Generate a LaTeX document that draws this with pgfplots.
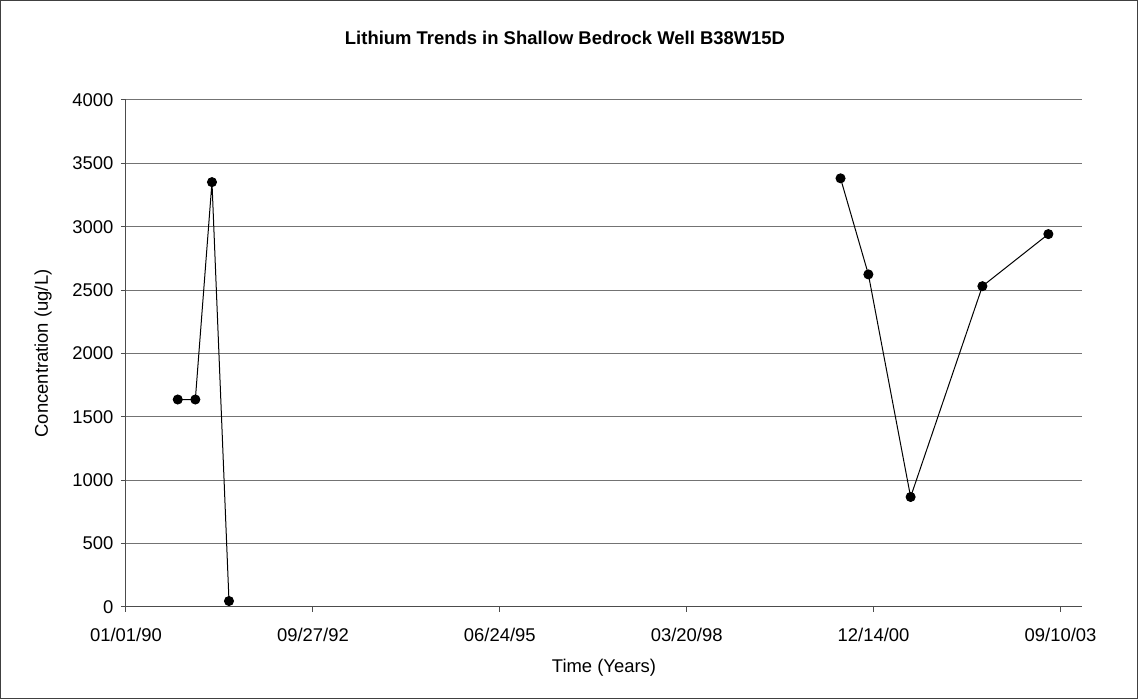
\documentclass[border=0pt]{standalone}
\usepackage{pgfplots}
\pgfplotsset{compat=1.18}
\usepackage{fontspec}
\setmainfont{Liberation Sans}
\begin{document}
\begin{tikzpicture}[x=1bp,y=1bp]
\useasboundingbox (-126,-93) rectangle (1012,607);
\draw[black!75, line width=1bp] (-125,-92) rectangle (1011,606);
\node[font=\bfseries\fontsize{18.5}{22}\selectfont] at (439,569) {Lithium Trends in Shallow Bedrock Well B38W15D};
\begin{axis}[
  at={(0,0)}, anchor=south west,
  scale only axis, width=956bp, height=507bp,
  xmin=0, xmax=5115, ymin=0, ymax=4000,
  xtick={0,1000,...,5000},
  xticklabels={01/01/90,09/27/92,06/24/95,03/20/98,12/14/00,09/10/03},
  ytick={0,500,...,4000},
  ymajorgrids, grid style={black!55, line width=1bp},
  axis x line*=bottom, axis y line*=left,
  axis line style={black!70, line width=1bp, -},
  tick align=outside, major tick length=5bp,
  tick style={black!70, line width=1bp},
  ticklabel style={font=\fontsize{18.5}{22}\selectfont},
  yticklabel style={xshift=-4bp},
  xticklabel style={yshift=-13bp},
  /pgf/number format/assume math mode=true,
  /pgf/number format/1000 sep={},
  xlabel={Time (Years)}, ylabel={Concentration (ug/L)},
  label style={font=\fontsize{18.5}{22}\selectfont},
  xlabel style={at={(rel axis cs:0.5,0)}, anchor=center, yshift=-61bp},
  ylabel style={at={(rel axis cs:0,0.5)}, anchor=center, yshift=83bp},
  clip=false,
]
\addplot[black, line width=1bp, mark=*, mark size=4.5bp] coordinates {
  (277,1637) (371,1637) (460,3352) (551,47)
};
\addplot[black, line width=1bp, mark=*, mark size=4.5bp] coordinates {
  (3823,3382) (3972,2624) (4198,868) (4582,2531) (4935,2942)
};
\end{axis}
\end{tikzpicture}
\end{document}
